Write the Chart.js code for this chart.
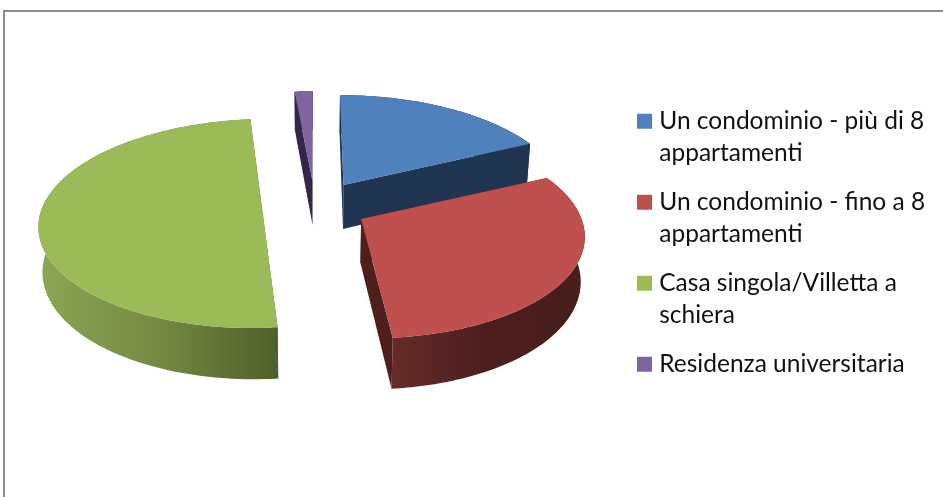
<!DOCTYPE html>
<html>
<head>
<meta charset="utf-8">
<title>Tipo di alloggio</title>
<script src="https://cdn.jsdelivr.net/npm/chart.js@4"></script>
<style>
html, body { margin: 0; padding: 0; background: #fff; overflow: hidden; }
#wrap { position: relative; width: 943px; height: 497px; overflow: hidden; }
#frame { position: absolute; left: 3px; top: 10px; width: 960px; height: 520px; border: 2px solid #8c8c8c; }
canvas { position: absolute; left: 0; top: 0; }
</style>
</head>
<body>
<div id="wrap">
  <div id="frame"></div>
  <canvas id="pieChart" width="943" height="497"></canvas>
</div>
<script>
const categories = [
    ["Un condominio - più di 8", "appartamenti"],
    ["Un condominio - fino a 8", "appartamenti"],
    ["Casa singola/Villetta a", "schiera"],
    "Residenza universitaria"
];
const shares = [18, 30.5, 50, 1.5];
const topColours = ["#4f81bd", "#c0504d", "#9bbb59", "#8064a2"];
const cutColours = ["#1f3552", "#4f1f1e", "#4f5f2b", "#33264a"];
// outer wall shading, left to right
const wallStops = [
    ["#1f3552", "#1f3552"],
    ["#652b2a", "#4c1e1e", "#4a1d1d"],
    ["#8ca653", "#748a42", "#4f5f2b"],
    ["#33264a", "#33264a"]
];

// 3D look of the pie
const radiusScale = 1.148;
const explode = 0.241;
const tilt = 0.465;
const perspective = 0.14;
const depth = 44;
const bottomShrink = 0.985;

function sliceProjector(arc) {
    const R = arc.outerRadius * radiusScale;
    const mid = (arc.startAngle + arc.endAngle) / 2 + Math.PI / 2;
    const shiftX = explode * R * Math.sin(mid);
    const apexY = arc.y - explode * R * Math.cos(mid) * 0.479;
    return function (theta, r, low) {
        const s = r ? 1 / (1 + perspective * Math.cos(theta)) : 1;
        let x = arc.x + (shiftX + r * R * Math.sin(theta)) * s;
        let y = apexY - r * R * tilt * Math.cos(theta) * s;
        if (low) {
            x = arc.x + (x - arc.x) * bottomShrink;
            y += depth * s;
        }
        return [x, y];
    };
}

function tracePath(ctx, points) {
    ctx.beginPath();
    points.forEach((p, i) => i ? ctx.lineTo(p[0], p[1]) : ctx.moveTo(p[0], p[1]));
    ctx.closePath();
}

const pie3d = {
    id: "pie3d",
    afterLayout(chart) {
        // legend sits right of the pie, not inside the chart area
        const legend = chart.legend;
        legend.left = 625;
        legend.right = 943;
        legend.top = 92;
        legend.bottom = 497;
    },
    beforeDatasetsDraw(chart) {
        const ctx = chart.ctx;
        const arcs = chart.getDatasetMeta(0).data;
        const order = arcs.map((arc, i) => i).sort((a, b) => {
            const midA = (arcs[a].startAngle + arcs[a].endAngle) / 2 + Math.PI / 2;
            const midB = (arcs[b].startAngle + arcs[b].endAngle) / 2 + Math.PI / 2;
            return Math.cos(midB) - Math.cos(midA);
        });
        order.forEach(i => {
            const arc = arcs[i];
            const project = sliceProjector(arc);
            const start = arc.startAngle + Math.PI / 2;
            const end = arc.endAngle + Math.PI / 2;
            const topEdge = [];
            const lowEdge = [];
            for (let k = 0; k <= 120; k++) {
                const theta = start + (end - start) * k / 120;
                topEdge.push(project(theta, 1, false));
                lowEdge.push(project(theta, 1, true));
            }

            // cut faces
            ctx.fillStyle = cutColours[i];
            [[topEdge[0], lowEdge[0]], [topEdge[120], lowEdge[120]]].forEach(face => {
                tracePath(ctx, [project(0, 0, false), face[0], face[1], project(0, 0, true)]);
                ctx.fill();
            });

            // outer wall
            const xs = lowEdge.concat(topEdge).map(p => p[0]);
            const gradient = ctx.createLinearGradient(Math.min(...xs), 0, Math.max(...xs), 0);
            wallStops[i].forEach((colour, n) => gradient.addColorStop(n / (wallStops[i].length - 1), colour));
            ctx.fillStyle = gradient;
            tracePath(ctx, topEdge.concat(lowEdge.slice().reverse()));
            ctx.fill();

            // top face
            ctx.fillStyle = topColours[i];
            tracePath(ctx, [project(0, 0, false)].concat(topEdge));
            ctx.fill();
        });
        return false;
    }
};

new Chart(document.getElementById("pieChart"), {
    type: "pie",
    data: {
        labels: categories,
        datasets: [{
            data: shares,
            backgroundColor: topColours,
            borderColor: topColours,
            borderWidth: 10
        }]
    },
    options: {
        responsive: false,
        animation: false,
        layout: { padding: { left: 118, right: 431, top: 9, bottom: 93 } },
        plugins: {
            tooltip: { enabled: false },
            legend: {
                position: "chartArea",
                align: "start",
                labels: {
                    boxWidth: 5,
                    boxHeight: 5,
                    padding: 17,
                    color: "#111",
                    font: { family: "Lato", size: 24.5, lineHeight: "32px" }
                }
            }
        }
    },
    plugins: [pie3d]
});
</script>
</body>
</html>
